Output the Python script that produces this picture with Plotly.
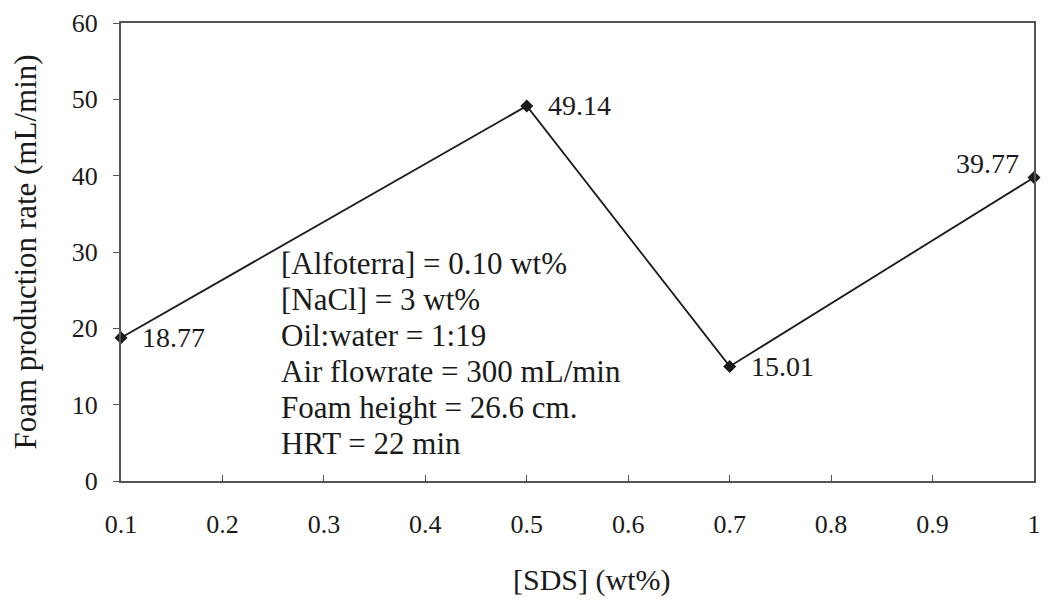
import plotly.graph_objects as go

sds = [0.1, 0.5, 0.7, 1.0]
foam_rate = [18.77, 49.14, 15.01, 39.77]
point_labels = ["18.77", "49.14", "15.01", "39.77"]
x_ticks = [0.1, 0.2, 0.3, 0.4, 0.5, 0.6, 0.7, 0.8, 0.9, 1.0]
x_tick_text = ["0.1", "0.2", "0.3", "0.4", "0.5", "0.6", "0.7", "0.8", "0.9", "1"]
y_ticks = [0, 10, 20, 30, 40, 50, 60]
conditions = [
    "[Alfoterra] = 0.10 wt%",
    "[NaCl] = 3 wt%",
    "Oil:water = 1:19",
    "Air flowrate = 300 mL/min",
    "Foam height = 26.6 cm.",
    "HRT = 22 min",
]

font_family = "Liberation Serif, Times New Roman, serif"
ink = "#1a1a1a"

fig = go.Figure()
fig.add_trace(go.Scatter(
    x=sds, y=foam_rate, mode="lines+markers",
    line=dict(color=ink, width=1.8),
    marker=dict(symbol="diamond", size=10, color=ink),
    cliponaxis=False,
    showlegend=False,
))

# data labels
for i, (xv, yv, lab) in enumerate(zip(sds, foam_rate, point_labels)):
    last = i == len(sds) - 1
    fig.add_annotation(
        x=xv, y=yv, xref="x", yref="y",
        text=lab, showarrow=False,
        xanchor="right" if last else "left", yanchor="middle",
        xshift=-13 if last else 19, yshift=14 if last else 0,
        font=dict(family=font_family, size=28, color=ink),
    )

# conditions text block
line_px = 36.0
px_per_unit = (481 - 23) / 60.0
for i, line in enumerate(conditions):
    fig.add_annotation(
        x=0.256, y=28.5 - i * line_px / px_per_unit, xref="x", yref="y",
        xanchor="left", yanchor="middle",
        text=line, showarrow=False, align="left",
        font=dict(family=font_family, size=31, color=ink),
    )

# x-axis title (slightly right of centre, as in the original)
fig.add_annotation(
    x=0.516, y=0, xref="paper", yref="paper", yanchor="middle", yshift=-99,
    text="[SDS] (wt%)", showarrow=False, borderpad=0,
    font=dict(family=font_family, size=30, color=ink),
)

fig.update_layout(
    width=1049, height=601,
    margin=dict(l=121, r=8, t=23, b=120),
    plot_bgcolor="white", paper_bgcolor="white",
    font=dict(family=font_family, size=26, color=ink),
    xaxis=dict(
        range=[0.1, 1.0], tickvals=x_ticks, ticktext=x_tick_text,
        showgrid=False, zeroline=False, showline=True, linecolor="#555", linewidth=2,
        mirror=True, ticks="inside", ticklen=6, tickcolor="#555",
        tickfont=dict(family=font_family, size=26, color=ink),
        ticklabelstandoff=19,
    ),
    yaxis=dict(
        range=[0, 60], tickvals=y_ticks,
        showgrid=False, zeroline=False, showline=True, linecolor="#555", linewidth=2,
        mirror=True, ticks="outside", ticklen=6, tickcolor="#555",
        tickfont=dict(family=font_family, size=26, color=ink),
        ticklabelstandoff=10,
        title=dict(text="Foam production rate (mL/min)", font=dict(family=font_family, size=31, color=ink), standoff=26),
    ),
)

fig.write_html("out.html")
